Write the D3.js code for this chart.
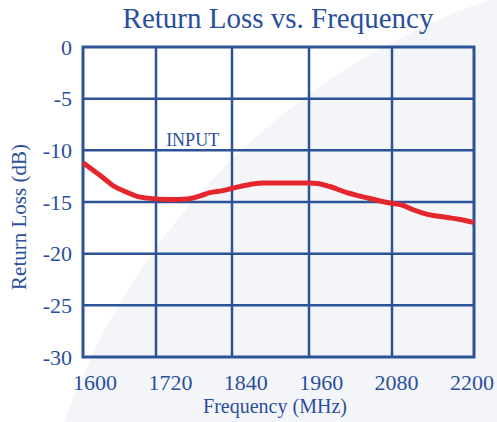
<!DOCTYPE html>
<html><head><meta charset="utf-8">
<script src="https://cdn.jsdelivr.net/npm/d3@7"></script>
<style>html,body{margin:0;padding:0;background:#fff;}svg{display:block;}</style>
</head><body>
<svg id="chart" width="497" height="422"></svg>
<script>
const freqTicks = [1600, 1720, 1840, 1960, 2080, 2200];
const lossTicks = [0, -5, -10, -15, -20, -25, -30];
const freq = [1600, 1633, 1649, 1670, 1689, 1710, 1740, 1769, 1790, 1805, 1825, 1842, 1868, 1889, 1931, 1960, 1972, 1990, 2015, 2044, 2077, 2095, 2111, 2132, 2161, 2180, 2200];
const loss = [-11.2, -12.65, -13.4, -14.0, -14.45, -14.65, -14.75, -14.7, -14.4, -14.1, -13.9, -13.65, -13.3, -13.16, -13.16, -13.16, -13.2, -13.5, -14.1, -14.6, -15.1, -15.3, -15.75, -16.2, -16.5, -16.7, -17.0];
const annotation = {text: "INPUT", f: 1736, v: -9.6};

const svg = d3.select("#chart");
const textColor = "#2a4f9b", gridColor = "#2d5397", lineColor = "#e3272d";
const font = "'Liberation Serif', 'Times New Roman', serif";

// background swoosh
svg.append("rect").attr("width", 497).attr("height", 422).attr("fill", "#ffffff");
svg.append("circle").attr("cx", 715).attr("cy", 652).attr("r", 690).attr("fill", "#f4f5f9");

const x = d3.scaleLinear().domain(freqTicks).range([83, 156, 232, 309, 392, 474]);
const xLabel = d3.scaleLinear().domain([1600, 2200]).range([95, 472]);
const y = d3.scaleLinear().domain([0, -30]).range([47, 357]);

// grid
const g = svg.append("g");
g.selectAll("line.v").data(freqTicks.slice(1, -1)).join("line")
  .attr("x1", d => x(d)).attr("x2", d => x(d)).attr("y1", y(0)).attr("y2", y(-30))
  .attr("stroke", gridColor).attr("stroke-width", 2.5);
g.selectAll("line.h").data(lossTicks.slice(1, -1)).join("line")
  .attr("x1", x(1600)).attr("x2", x(2200)).attr("y1", d => y(d)).attr("y2", d => y(d))
  .attr("stroke", gridColor).attr("stroke-width", 2.5);
g.append("rect").attr("x", x(1600)).attr("y", y(0))
  .attr("width", x(2200) - x(1600)).attr("height", y(-30) - y(0))
  .attr("fill", "none").attr("stroke", gridColor).attr("stroke-width", 3);

// data line
svg.append("path").datum(freq.map((f, i) => [f, loss[i]]))
  .attr("d", d3.line().x(d => x(d[0])).y(d => y(d[1])).curve(d3.curveMonotoneX))
  .attr("fill", "none").attr("stroke", lineColor).attr("stroke-width", 5)
  .attr("stroke-linejoin", "round");

// tick labels
svg.selectAll("text.yt").data(lossTicks).join("text")
  .attr("x", 72).attr("y", d => y(d)).attr("dy", "0.35em")
  .attr("text-anchor", "end").attr("font-family", font).attr("font-size", 22)
  .attr("fill", textColor).text(d => d);
svg.selectAll("text.xt").data(freqTicks).join("text")
  .attr("x", d => xLabel(d)).attr("y", 390)
  .attr("text-anchor", "middle").attr("font-family", font).attr("font-size", 22)
  .attr("fill", textColor).text(d => d);

// titles
svg.append("text").attr("x", 278).attr("y", 28).attr("text-anchor", "middle")
  .attr("font-family", font).attr("font-size", 29).attr("fill", textColor)
  .text("Return Loss vs. Frequency");
svg.append("text").attr("x", 275).attr("y", 413).attr("text-anchor", "middle")
  .attr("font-family", font).attr("font-size", 20).attr("fill", textColor)
  .text("Frequency (MHz)");
svg.append("text").attr("transform", "translate(26,217) rotate(-90)").attr("text-anchor", "middle")
  .attr("font-family", font).attr("font-size", 21).attr("fill", textColor)
  .text("Return Loss (dB)");

// annotation
svg.append("text").attr("x", x(annotation.f)).attr("y", y(annotation.v))
  .attr("font-family", font).attr("font-size", 18).attr("fill", textColor)
  .text(annotation.text);
</script>
</body></html>
